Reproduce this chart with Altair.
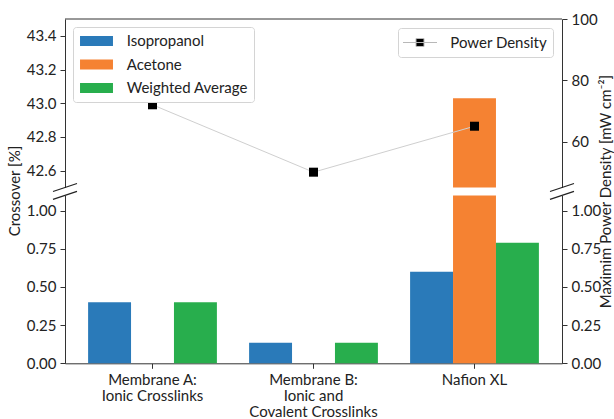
import altair as alt
import pandas as pd

# Membranes on the x axis (line breaks become multi-line tick labels)
categories = [
    "Membrane A:\nIonic Crosslinks",
    "Membrane B:\nIonic and\nCovalent Crosslinks",
    "Nafion XL",
]
solvents = ["Isopropanol", "Acetone", "Weighted Average"]

# Crossover [%] per solvent (no acetone measurement for membranes A and B)
isopropanol = [0.40, 0.135, 0.60]
acetone = [None, None, 43.03]
weighted_average = [0.40, 0.135, 0.79]

# Maximum power density [mW cm-2]
power_density = [72, 50, 65]
power_series = "Power Density"

bar_colors = ["#2a7ab9", "#f58232", "#28ae4d"]
FONT = "Lato"

# plot geometry: one plot area split into an upper and a lower y band (broken axis)
W = 497
H = 344.3
UPPER = [168.5, 0]        # pixel band of the upper y range
LOWER = [344.3, 176.4]    # pixel band of the lower y range
UPPER_MIN = 42.5

rows = []
for i, membrane in enumerate(categories):
    for solvent, values in zip(solvents, [isopropanol, acetone, weighted_average]):
        if values[i] is not None:
            rows.append({"membrane": membrane, "solvent": solvent, "crossover": values[i]})
bars_df = pd.DataFrame(rows)
power_df = pd.DataFrame(
    {"membrane": categories, "power": power_density, "series": [power_series] * len(categories)}
)
one_row = pd.DataFrame({"k": [0]})

x_axis = alt.Axis(
    title=None,
    labelAngle=0,
    labelExpr="split(datum.label, '\\n')",
    labelLineHeight=16,
    labelPadding=4,
    tickSize=5,
)
x_enc = alt.X(
    "membrane:N",
    sort=categories,
    scale=alt.Scale(domain=categories, paddingInner=0.2, paddingOuter=0.1435),
    axis=x_axis,
)
x_offset = alt.XOffset(
    "solvent:N", sort=solvents, scale=alt.Scale(domain=solvents, paddingInner=0, paddingOuter=0)
)

bar_legend = alt.Legend(
    title=None,
    orient="top-left",
    offset=8,
    padding=6,
    rowPadding=7.5,
    symbolType="M-2.06,-0.62H2.06V0.62H-2.06Z",
    symbolSize=256,
    symbolOffset=9.5,
    symbolStrokeWidth=0,
    symbolOpacity=1,
    labelOffset=22.2,
    labelFont=FONT,
    labelFontSize=15,
    labelColor="#222",
    strokeColor="#d4d4d4",
    fillColor="white",
    cornerRadius=3,
)
color_enc = alt.Color(
    "solvent:N", sort=solvents, scale=alt.Scale(domain=solvents, range=bar_colors), legend=bar_legend
)

power_legend = alt.Legend(
    title=None,
    orient="top-right",
    offset=9,
    padding=6,
    symbolType="M-2.125,0H2.125M-0.5,-0.5H0.5V0.5H-0.5Z",
    symbolSize=256,
    symbolOffset=7.5,
    symbolOpacity=1,
    symbolStrokeColor="#b8b8b8",
    symbolStrokeWidth=1,
    symbolFillColor="black",
    labelOffset=21.8,
    labelFont=FONT,
    labelFontSize=15,
    labelColor="#222",
    strokeColor="#d4d4d4",
    fillColor="white",
    cornerRadius=3,
)

# ---- lower band: 0 - 1.1 % crossover ----
low_values = [0, 0.25, 0.5, 0.75, 1.0]
low_bars = alt.Chart(bars_df).mark_bar().encode(
    x=x_enc,
    xOffset=x_offset,
    y=alt.Y(
        "crossover:Q",
        scale=alt.Scale(domain=[0, 1.1], range=LOWER, clamp=True, nice=False),
        axis=alt.Axis(
            orient="left",
            values=low_values,
            format=".2f",
            title="Crossover [%]",
            titleY=171.5,
            titlePadding=4,
        ),
    ),
    color=color_enc,
)

low_right = alt.Chart(bars_df).mark_bar(opacity=0).encode(
    x=x_enc,
    xOffset=x_offset,
    y=alt.Y(
        "crossover:Q",
        scale=alt.Scale(domain=[0, 1.1], range=LOWER, clamp=True, nice=False),
        axis=alt.Axis(
            orient="right",
            values=low_values,
            format=".2f",
            title="Maximim Power Density [mW cm⁻²]",
            titleAngle=270,
            titleBaseline="top",
            titleY=172,
            titlePadding=-2,
        ),
    ),
)

# ---- upper band: 42.5 - 43.5 % crossover ----
up_bars = alt.Chart(bars_df).transform_filter(
    alt.datum.crossover > UPPER_MIN
).mark_bar().encode(
    x=x_enc,
    xOffset=x_offset,
    y=alt.Y(
        "crossover:Q",
        scale=alt.Scale(domain=[UPPER_MIN, 43.5], range=UPPER, clamp=True, nice=False, zero=False),
        axis=alt.Axis(orient="left", values=[42.6, 42.8, 43.0, 43.2, 43.4], format=".1f", title=None),
    ),
    y2=alt.datum(UPPER_MIN),
    color=color_enc,
)

# ---- power density on the right axis of the upper band ----
power_y = alt.Y(
    "power:Q",
    scale=alt.Scale(domain=[45, 100], range=UPPER, nice=False, zero=False),
    axis=alt.Axis(orient="right", values=[60, 80, 100], format="d", title=None),
)
power_line = alt.Chart(power_df).mark_line(color="#cfcfcf", strokeWidth=1).encode(x=x_enc, y=power_y)
power_points = alt.Chart(power_df).mark_point(
    shape="square", filled=True, size=81, opacity=1
).encode(
    x=x_enc,
    y=power_y,
    fill=alt.Fill(
        "series:N", scale=alt.Scale(domain=[power_series], range=["black"]), legend=power_legend
    ),
)
power = alt.layer(power_line, power_points)


def break_mark(x0, y0):
    # short diagonal stroke marking the broken axis
    return alt.Chart(one_row).mark_rule(color="#222", strokeWidth=1.3).encode(
        x=alt.value(x0 - 12), x2=alt.value(x0 + 12), y=alt.value(y0 + 4), y2=alt.value(y0 - 4)
    )


breaks = [break_mark(xx, yy) for xx in (0, W) for yy in (UPPER[0], LOWER[1])]

# upper frame edge
top_edge = alt.Chart(one_row).mark_rule(color="#333", strokeWidth=1).encode(
    x=alt.value(0), x2=alt.value(W), y=alt.value(0)
)

chart = (
    alt.layer(low_bars, low_right, up_bars, power, top_edge, *breaks)
    .resolve_scale(y="independent")
    .properties(
        width=W,
        height=H,
        autosize=alt.AutoSizeParams(type="none"),
        padding={"left": 65, "top": 19, "right": 52, "bottom": 55.7},
    )
    .configure_view(stroke=None)
    .configure_axis(
        labelFont=FONT,
        labelFontSize=15,
        labelColor="#222",
        titleFont=FONT,
        titleFontSize=15,
        titleFontWeight="normal",
        titleColor="#222",
        domainColor="#333",
        tickColor="#333",
        tickSize=5,
        labelPadding=4,
        grid=False,
    )
)

chart.save("out.html", embed_options={"renderer": "svg", "actions": False})
